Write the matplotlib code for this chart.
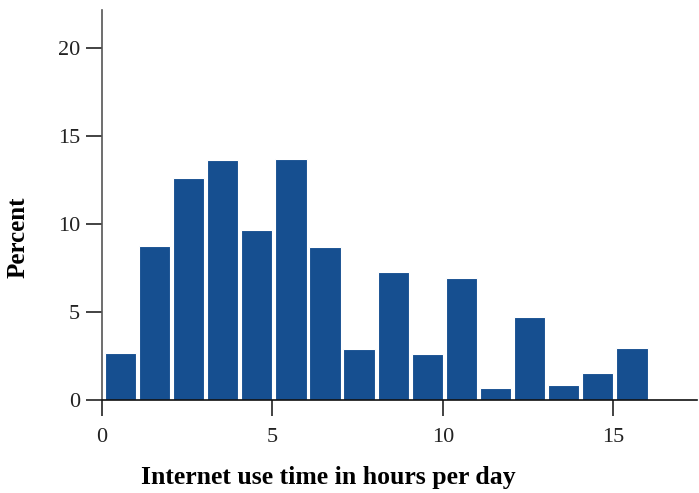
import matplotlib
matplotlib.use("Agg")
import matplotlib.pyplot as plt
import numpy as np

# hours per day bins (left edges) and percent of respondents
hours = list(range(16))
percent = [2.65, 8.75, 12.6, 13.65, 9.65, 13.7, 8.7, 2.9, 7.3, 2.6, 6.95, 0.7, 4.7, 0.85, 1.55, 2.95]
yticks = [0, 5, 10, 15, 20]
xticks = [0, 5, 10, 15]

plt.rcParams['font.family'] = ['Liberation Serif', 'DejaVu Serif']

fig = plt.figure(figsize=(6.99, 4.93), dpi=100)
ax = fig.add_axes([102 / 699, 93 / 493, 595 / 699, 390 / 493])

ax.bar(np.array(hours) + 0.54, percent, width=0.92, color="#164f90",
       edgecolor="white", linewidth=0.8)

ax.set_xlim(0, 17.45)
ax.set_ylim(0, 22.16)
ax.set_xticks(xticks)
ax.set_yticks(yticks)
ax.tick_params(axis="both", length=11.5, width=1.2, colors="#222222",
               labelsize=16)
ax.tick_params(axis="y", pad=4.3)
ax.tick_params(axis="x", pad=9)

for s in ["top", "right"]:
    ax.spines[s].set_visible(False)
ax.spines["left"].set_color("#555555")
ax.spines["left"].set_linewidth(1.2)
ax.spines["bottom"].set_color("#111111")
ax.spines["bottom"].set_linewidth(1.2)
ax.spines["bottom"].set_zorder(3)

ax.set_xlabel("Internet use time in hours per day", fontsize=18.5,
              fontweight="bold")
ax.xaxis.set_label_coords(0.381, -0.198)
ax.xaxis.label.set_va("center")
ax.set_ylabel("Percent", fontsize=18, fontweight="bold")
ax.yaxis.set_label_coords(-0.141, 0.418)
ax.yaxis.label.set_va("center")

fig.savefig("out.png", dpi=100)
